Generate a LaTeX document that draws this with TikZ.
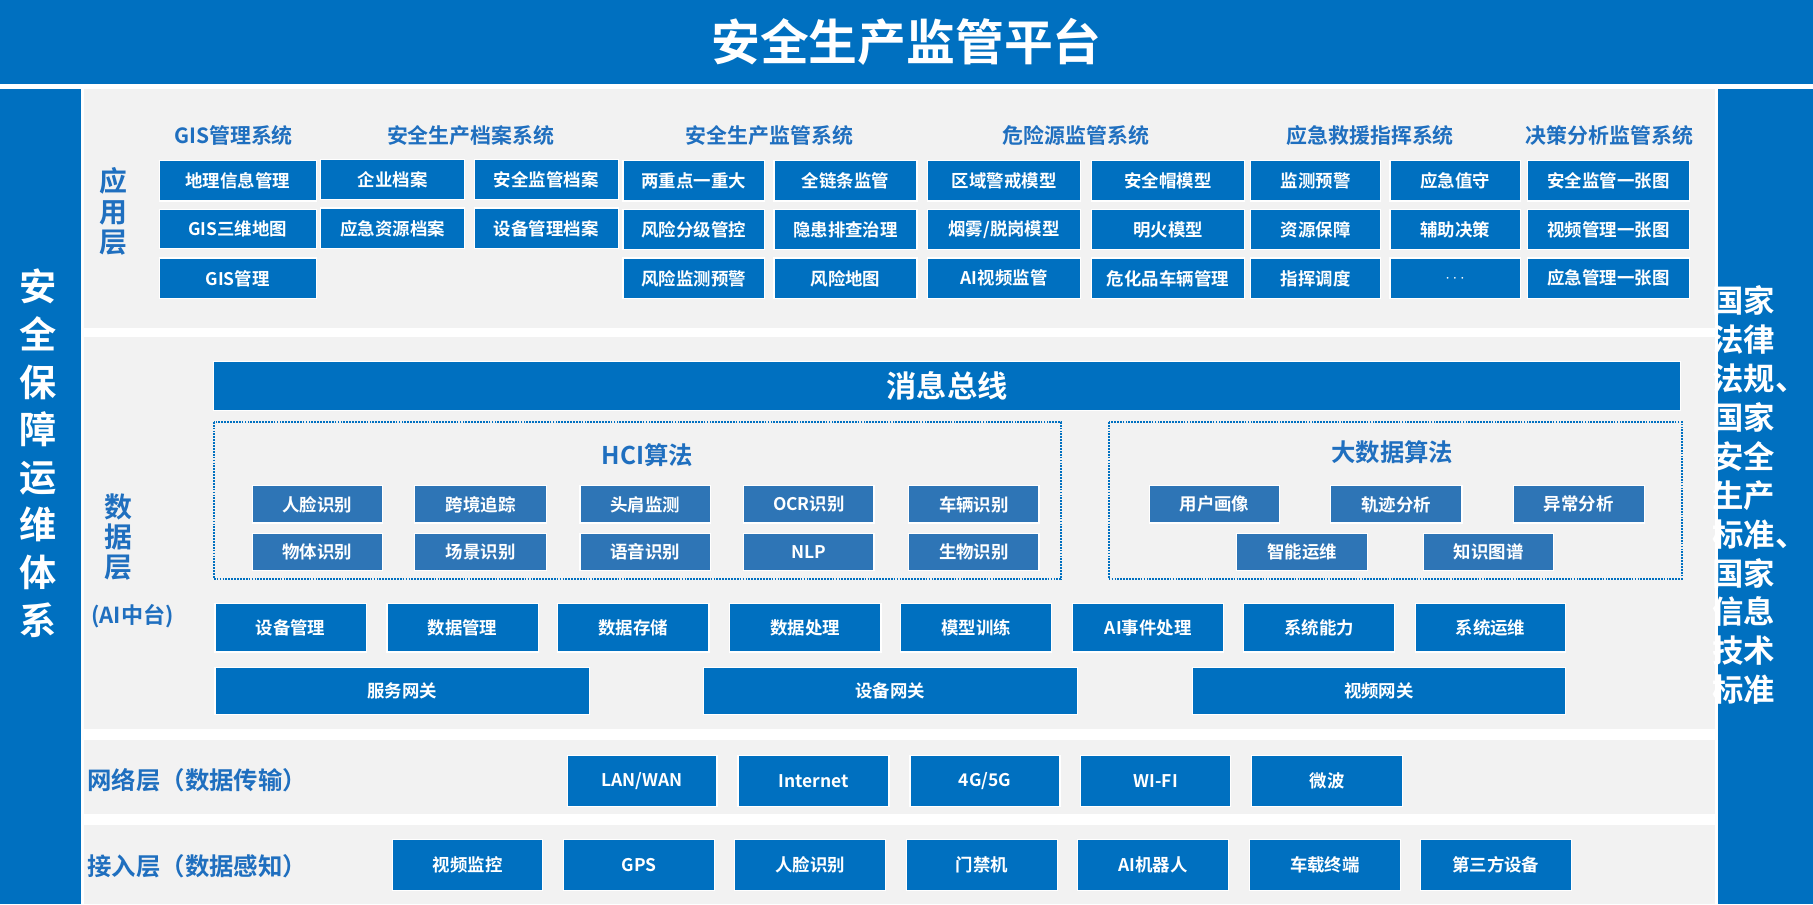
\documentclass[tikz,border=0pt]{standalone}
\usepackage{fontspec}
\setmainfont{Noto Sans CJK SC Bold}
\usetikzlibrary{positioning}
\definecolor{mb}{HTML}{0070C0}
\definecolor{hb}{HTML}{2E75B6}
\definecolor{bg}{HTML}{F2F2F2}
\definecolor{tb}{HTML}{1F6FBF}
\tikzset{box/.style={fill=mb,draw=white,line width=1pt,text=white,font=\fontsize{15}{15}\selectfont,inner sep=0pt},
 hbox/.style={box,fill=hb},
 hdr/.style={text=tb,font=\fontsize{18}{18}\selectfont},
 lay/.style={text=tb,font=\fontsize{24}{26}\selectfont,align=center}}
\newcommand\bx[7][box]{\node[#1,minimum width={#5-#3},minimum height={#6-#4}] (#2) at ({(#3+#5)/2},{-(#4+#6)/2}) {#7};}
\newcommand\rect[5]{\fill[#1] (#2,-#3) rectangle (#4,-#5);}
\begin{document}
\begin{tikzpicture}[x=1pt,y=1pt]
\useasboundingbox (0,0) rectangle (1560,-778);
\fill[white] (0,0) rectangle (1560,-778);
\rect{mb}{0}{0}{1560}{72}
\node[text=white,font=\fontsize{42}{42}\selectfont] (title) at (780,-36) {安全生产监管平台};
\rect{mb}{0}{77}{70}{778}
\rect{mb}{1478}{77}{1560}{778}
\rect{bg}{72}{77}{1476}{282}
\rect{bg}{72}{290}{1476}{627}
\rect{bg}{72}{637}{1476}{700}
\rect{bg}{72}{710}{1476}{778}
\node[text=white,font=\fontsize{32}{41}\selectfont,align=center] (left) at (33,-390) {安\\全\\保\\障\\运\\维\\体\\系};
\node[text=white,font=\fontsize{27}{33.5}\selectfont,align=left,inner sep=0pt] (right) at (1514,-426) {国家\\法律\\法规、\\国家\\安全\\生产\\标准、\\国家\\信息\\技术\\标准};
% app layer
\node[lay] (l1) at (98,-182) {应\\用\\层};
\node[hdr] (h1) at (201,-117) {GIS管理系统};
\node[hdr] (h2) at (405,-117) {安全生产档案系统};
\node[hdr] (h3) at (662,-117) {安全生产监管系统};
\node[hdr] (h4) at (926,-117) {危险源监管系统};
\node[hdr] (h5) at (1179,-117) {应急救援指挥系统};
\node[hdr] (h6) at (1385,-117) {决策分析监管系统};
\bx{a1}{137}{138}{272}{173}{地理信息管理}
\bx{a2}{137}{180}{272}{214}{GIS三维地图}
\bx{a3}{137}{222}{272}{257}{GIS管理}
\bx{b1}{276}{137}{400}{172}{企业档案}
\bx{b2}{408}{137}{532}{172}{安全监管档案}
\bx{b3}{276}{179}{400}{214}{应急资源档案}
\bx{b4}{408}{179}{532}{214}{设备管理档案}
\bx{c1}{536}{138}{658}{173}{两重点一重大}
\bx{c2}{666}{138}{789}{173}{全链条监管}
\bx{c3}{536}{180}{658}{215}{风险分级管控}
\bx{c4}{666}{180}{789}{215}{隐患排查治理}
\bx{c5}{536}{222}{658}{257}{风险监测预警}
\bx{c6}{666}{222}{789}{257}{风险地图}
\bx{d1}{798}{138}{930}{173}{区域警戒模型}
\bx{d2}{939}{138}{1071}{173}{安全帽模型}
\bx{d3}{798}{180}{930}{215}{烟雾/脱岗模型}
\bx{d4}{939}{180}{1071}{215}{明火模型}
\bx{d5}{798}{222}{930}{257}{AI视频监管}
\bx{d6}{939}{222}{1071}{257}{危化品车辆管理}
\bx{e1}{1076}{138}{1188}{173}{监测预警}
\bx{e2}{1196}{138}{1308}{173}{应急值守}
\bx{e3}{1076}{180}{1188}{215}{资源保障}
\bx{e4}{1196}{180}{1308}{215}{辅助决策}
\bx{e5}{1076}{222}{1188}{257}{指挥调度}
\bx{e6}{1196}{222}{1308}{257}{$\cdots$}
\bx{f1}{1314}{138}{1454}{173}{安全监管一张图}
\bx{f2}{1314}{180}{1454}{215}{视频管理一张图}
\bx{f3}{1314}{222}{1454}{257}{应急管理一张图}
% data layer
\node[lay] (l2) at (102,-462) {数\\据\\层};
\node[text=tb,font=\fontsize{19}{19}\selectfont] (l2b) at (114,-530) {(AI中台)};
\bx{bus}{184}{311}{1446}{353}{\fontsize{26}{26}\selectfont 消息总线}
\draw[mb,densely dotted,line width=1.5pt] (184,-363) rectangle (913,-498);
\draw[mb,densely dotted,line width=1.5pt] (954,-363) rectangle (1447,-498);
\node[hdr,font=\fontsize{21}{21}\selectfont] (hci) at (557,-392) {HCI算法};
\node[hdr,font=\fontsize{21}{21}\selectfont] (bd) at (1198,-389) {大数据算法};
\bx[hbox]{g1}{217}{418}{329}{450}{人脸识别}
\bx[hbox]{g2}{357}{418}{470}{450}{跨境追踪}
\bx[hbox]{g3}{499}{418}{611}{450}{头肩监测}
\bx[hbox]{g4}{640}{418}{752}{450}{OCR识别}
\bx[hbox]{g5}{782}{418}{894}{450}{车辆识别}
\bx[hbox]{g6}{217}{459}{329}{491}{物体识别}
\bx[hbox]{g7}{357}{459}{470}{491}{场景识别}
\bx[hbox]{g8}{499}{459}{611}{491}{语音识别}
\bx[hbox]{g9}{640}{459}{752}{491}{NLP}
\bx[hbox]{g10}{782}{459}{894}{491}{生物识别}
\bx[hbox]{k1}{989}{418}{1101}{450}{用户画像}
\bx[hbox]{k2}{1145}{418}{1258}{450}{轨迹分析}
\bx[hbox]{k3}{1302}{418}{1415}{450}{异常分析}
\bx[hbox]{k4}{1064}{459}{1177}{491}{智能运维}
\bx[hbox]{k5}{1225}{459}{1337}{491}{知识图谱}
\bx{m1}{185}{519}{315}{561}{设备管理}
\bx{m2}{333}{519}{463}{561}{数据管理}
\bx{m3}{480}{519}{610}{561}{数据存储}
\bx{m4}{628}{519}{758}{561}{数据处理}
\bx{m5}{775}{519}{905}{561}{模型训练}
\bx{m6}{923}{519}{1053}{561}{AI事件处理}
\bx{m7}{1070}{519}{1200}{561}{系统能力}
\bx{m8}{1218}{519}{1347}{561}{系统运维}
\bx{w1}{185}{574}{507}{615}{服务网关}
\bx{w2}{605}{574}{927}{615}{设备网关}
\bx{w3}{1026}{574}{1347}{615}{视频网关}
% network
\node[text=tb,font=\fontsize{21}{21}\selectfont,anchor=west,inner sep=0pt] (l3) at (75,-671) {网络层（数据传输）};
\bx{n1}{488}{650}{617}{694}{LAN/WAN}
\bx{n2}{635}{650}{765}{694}{Internet}
\bx{n3}{783}{650}{912}{694}{4G/5G}
\bx{n4}{930}{650}{1059}{694}{WI-FI}
\bx{n5}{1077}{650}{1207}{694}{微波}
% access
\node[text=tb,font=\fontsize{21}{21}\selectfont,anchor=west,inner sep=0pt] (l4) at (75,-745) {接入层（数据感知）};
\bx{s1}{338}{722}{467}{766}{视频监控}
\bx{s2}{485}{722}{615}{766}{GPS}
\bx{s3}{632}{722}{762}{766}{人脸识别}
\bx{s4}{780}{722}{910}{766}{门禁机}
\bx{s5}{927}{722}{1057}{766}{AI机器人}
\bx{s6}{1075}{722}{1205}{766}{车载终端}
\bx{s7}{1222}{722}{1352}{766}{第三方设备}
\end{tikzpicture}
\end{document}
